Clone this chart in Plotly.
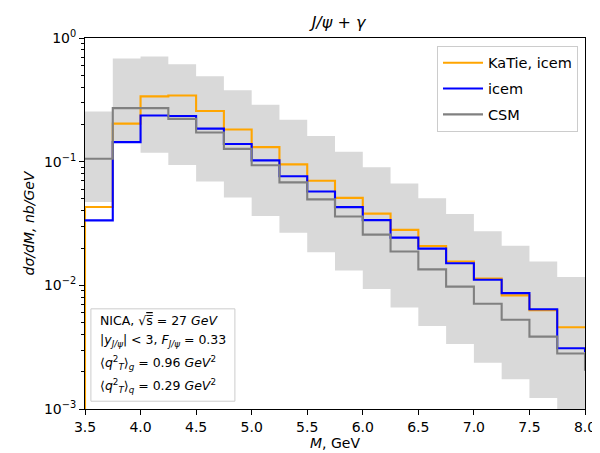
import plotly.graph_objects as go

edges = [3.5, 3.75, 4.0, 4.25, 4.5, 4.75, 5.0, 5.25, 5.5, 5.75, 6.0,
         6.25, 6.5, 6.75, 7.0, 7.25, 7.5, 7.75, 8.0]

katie = [0.043, 0.203, 0.337, 0.343, 0.257, 0.182, 0.131, 0.095, 0.070, 0.051,
         0.038, 0.0281, 0.0208, 0.0156, 0.01135, 0.0083, 0.00628, 0.00458]
icem = [0.0335, 0.144, 0.236, 0.234, 0.185, 0.139, 0.1025, 0.0762, 0.0574, 0.0429,
        0.0337, 0.0243, 0.0198, 0.0151, 0.0111, 0.00865, 0.0064, 0.0031]
csm = [0.1056, 0.271, 0.271, 0.222, 0.172, 0.127, 0.0935, 0.068, 0.0496, 0.036,
       0.0257, 0.0188, 0.01346, 0.00977, 0.00709, 0.00527, 0.00385, 0.00281]
# values of the next bin (beyond 8 GeV) seen as a drop at the right edge
katie_next = 0.0045
icem_next = 0.00288
csm_next = 0.00204

band_hi = [0.255, 0.684, 0.709, 0.613, 0.49, 0.378, 0.288, 0.218, 0.161, 0.1205,
           0.090, 0.0667, 0.0505, 0.0378, 0.0274, 0.0209, 0.0156, 0.0117]
band_lo = [0.0473, 0.143, 0.118, 0.094, 0.069, 0.0514, 0.0364, 0.0266, 0.0185, 0.0132,
           0.00935, 0.00662, 0.0047, 0.00335, 0.00237, 0.00174, 0.00123, 0.0008]

ytick_vals = [1e-3, 1e-2, 1e-1, 1]
ytick_text = ["10<sup>−3</sup>", "10<sup>−2</sup>", "10<sup>−1</sup>", "10<sup>0</sup>"]
xtick_vals = [3.5, 4.0, 4.5, 5.0, 5.5, 6.0, 6.5, 7.0, 7.5, 8.0]

FONT = "DejaVu Sans"

fig = go.Figure()

# uncertainty band
fig.add_trace(go.Scatter(x=edges, y=band_lo + [band_lo[-1]], mode="lines",
                         line=dict(width=0, shape="hv"), showlegend=False,
                         hoverinfo="skip"))
fig.add_trace(go.Scatter(x=edges, y=band_hi + [band_hi[-1]], mode="lines",
                         line=dict(width=0, shape="hv"), fill="tonexty",
                         fillcolor="#d9d9d9", showlegend=False, hoverinfo="skip"))

fig.add_trace(go.Scatter(x=[edges[0]] + edges, y=[1e-5] + katie + [katie_next],
                         mode="lines", name="KaTie, icem", legendgroup="a",
                         legendrank=1,
                         line=dict(color="orange", width=2.1, shape="hv")))
fig.add_trace(go.Scatter(x=edges, y=icem + [icem_next],
                         mode="lines", name="icem", legendgroup="b",
                         legendrank=2,
                         line=dict(color="blue", width=2.1, shape="hv")))
fig.add_trace(go.Scatter(x=edges, y=csm + [csm_next],
                         mode="lines", name="CSM", legendgroup="c",
                         legendrank=3,
                         line=dict(color="gray", width=2.1, shape="hv")))

minor_vals = []
for dec in [1e-3, 1e-2, 1e-1]:
    for k in range(2, 10):
        minor_vals.append(k * dec)

fig.update_layout(
    width=600, height=453,
    margin=dict(l=77, r=16, t=30, b=42),
    paper_bgcolor="white", plot_bgcolor="white",
    font=dict(family=FONT, size=14, color="black"),
    title=dict(text="<i>J/ψ + γ</i>", x=(77 + 584) / 2 / 600, xanchor="center",
               y=1 - 14 / 453, yanchor="middle", font=dict(size=16)),
    legend=dict(x=0.986, y=0.979, xanchor="right", yanchor="top",
                traceorder="grouped", tracegroupgap=4, itemwidth=40,
                bgcolor="rgba(255,255,255,0.8)", bordercolor="#cccccc",
                borderwidth=1, font=dict(size=14.5)),
    xaxis=dict(range=[3.5, 8.0], tickvals=xtick_vals,
               ticktext=[f"{v:.1f}" for v in xtick_vals],
               ticks="outside", ticklen=5, tickcolor="black",
               showline=True, linecolor="black", linewidth=1, mirror=True,
               showgrid=False, zeroline=False,
               title=dict(text="<i>M</i>, GeV", font=dict(size=14), standoff=4)),
    yaxis=dict(type="log", range=[-3, 0], tickvals=ytick_vals, ticktext=ytick_text,
               ticks="outside", ticklen=5, tickcolor="black",
               showline=True, linecolor="black", linewidth=1, mirror=True,
               showgrid=False, zeroline=False,
               minor=dict(tickvals=minor_vals, ticks="outside", ticklen=3,
                          tickcolor="black", showgrid=False),
               title=dict(text="<i>dσ/dM, nb/GeV</i>", font=dict(size=14), standoff=6)),
)

# info box
fig.add_shape(type="rect", xref="paper", yref="paper",
              x0=0.0118, x1=0.2998, y0=0.021, y1=0.270,
              line=dict(color="#cccccc", width=1), fillcolor="rgba(255,255,255,0.8)")

info_lines = [
    "NICA, √<span style='text-decoration:overline'>s\u0305</span> = 27 <i>GeV</i>",
    "|<i>y<sub>J/ψ</sub></i>| < 3, <i>F<sub>J/ψ</sub></i> = 0.33",
    "⟨<i>q</i><sup>2</sup><sub><i>T</i></sub>⟩<sub><i>g</i></sub> = 0.96 <i>GeV</i><sup>2</sup>",
    "⟨<i>q</i><sup>2</sup><sub><i>T</i></sub>⟩<sub><i>q</i></sub> = 0.29 <i>GeV</i><sup>2</sup>",
]
info_y = [0.2396, 0.1845, 0.1241, 0.063]
for txt, yy in zip(info_lines, info_y):
    fig.add_annotation(text=txt, xref="paper", yref="paper", x=0.0256, y=yy,
                       xanchor="left", yanchor="middle", showarrow=False,
                       font=dict(size=12.5, family=FONT))

fig.write_html("out.html")
